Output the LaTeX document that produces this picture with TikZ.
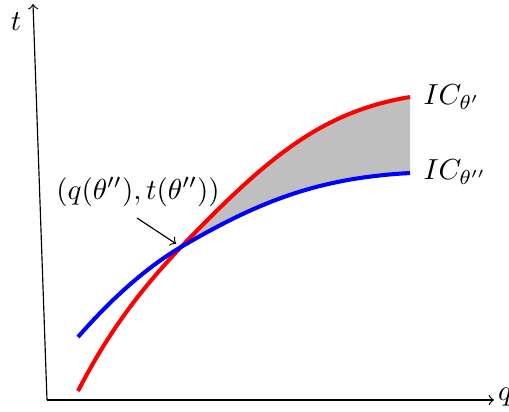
\documentclass[tikz,border=0pt]{standalone}
\begin{document}
\begin{tikzpicture}[x=0.345pt,y=-0.345pt,
  axis/.style={->,line width=0.4pt},
  curve/.style={line width=1.4pt},
  lbl/.style={inner sep=0pt}]
\useasboundingbox (0,0) rectangle (509,411);
% points
\coordinate (O) at (47,400);
\coordinate (ytop) at (33,4);
\coordinate (xend) at (494,400);
\coordinate (cross) at (181,247);
\coordinate (rs) at (78,391);
\coordinate (re) at (410,97);
\coordinate (bs) at (78,337);
\coordinate (be) at (410,173);
% shaded region
\fill[gray!50] (cross) .. controls (266,159) and (320,112) .. (re)
  -- (be) .. controls (320,178) and (261,200) .. (cross) -- cycle;
% curves
\draw[curve,red] (rs) .. controls (112,325) and (147,283) .. (cross)
  .. controls (266,159) and (320,112) .. (re);
\draw[curve,blue] (bs) .. controls (112,298) and (147,267) .. (cross)
  .. controls (261,200) and (320,178) .. (be);
% axes
\draw[axis] (O) -- (ytop);
\draw[axis] (O) -- (xend);
\node[lbl] (t) at (16,22) {$t$};
\node[lbl] (q) at (505,397) {$q$};
% labels
\node[lbl,anchor=west] (ic1) at (423,97) {$IC_{\theta'}$};
\node[lbl,anchor=west] (ic2) at (423,172) {$IC_{\theta''}$};
\node[lbl] (pt) at (138,192) {$(q(\theta''),t(\theta''))$};
\coordinate (as) at (137,218);
\draw[->,line width=0.4pt,shorten >=2pt] (as) -- (cross);
\end{tikzpicture}
\end{document}
